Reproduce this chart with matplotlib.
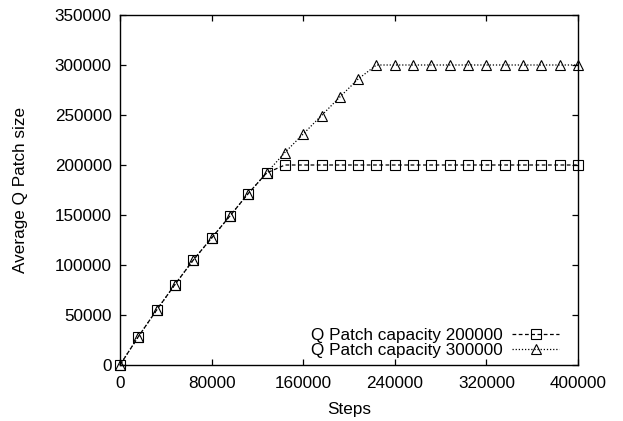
import matplotlib
matplotlib.use("Agg")
import matplotlib.pyplot as plt

plt.rcParams['font.family'] = ['Liberation Sans', 'DejaVu Sans']

# Simulation steps at which the patch size was sampled
steps = [0, 16000, 32000, 48000, 64000, 80000, 96000, 112000, 128000,
         144000, 160000, 176000, 192000, 208000, 224000, 240000, 256000,
         272000, 288000, 304000, 320000, 336000, 352000, 368000, 384000, 400000]

# Average Q patch size, capacity 200000
size_cap200k = [0, 28300, 55000, 80500, 105000, 127000, 149000, 171500, 192000,
                200000, 200000, 200000, 200000, 200000, 200000, 200000, 200000,
                200000, 200000, 200000, 200000, 200000, 200000, 200000, 200000, 200000]

# Average Q patch size, capacity 300000
size_cap300k = [0, 28300, 55000, 80500, 105000, 127000, 149000, 171500, 192000,
                212500, 231000, 249500, 268000, 286000, 300000, 300000, 300000,
                300000, 300000, 300000, 300000, 300000, 300000, 300000, 300000, 300000]

labels = ["Q Patch capacity 200000", "Q Patch capacity 300000"]
xticks = [0, 80000, 160000, 240000, 320000, 400000]
yticks = [0, 50000, 100000, 150000, 200000, 250000, 300000, 350000]

fig = plt.figure(figsize=(6.23, 4.21), dpi=100)
ax = fig.add_axes([120 / 623, 1 - 365 / 421, 458 / 623, 350 / 421])

ax.plot(steps, size_cap200k, color='black', lw=0.9, dashes=(3, 2),
        marker='s', ms=7.5, mfc='none', mec='black', mew=0.8, label=labels[0],
        clip_on=False, zorder=3)
ax.plot(steps, size_cap300k, color='black', lw=0.9, dashes=(1, 1.5),
        marker='^', ms=7.5, mfc='none', mec='black', mew=0.8, label=labels[1],
        clip_on=False, zorder=3)

ax.set_xlim(0, 400000)
ax.set_ylim(0, 350000)
ax.set_xticks(xticks)
ax.set_yticks(yticks)
ax.set_xticklabels([str(v) for v in xticks])
ax.set_yticklabels([str(v) for v in yticks])
ax.tick_params(direction='in', length=4.5, width=0.9, labelsize=12.3,
               top=True, right=True)
ax.tick_params(axis='x', pad=8)
ax.tick_params(axis='y', pad=6)
for s in ax.spines.values():
    s.set_linewidth(1.0)

ax.set_xlabel("Steps", fontsize=12.3, labelpad=8)
ax.set_ylabel("Average Q Patch size", fontsize=12.3, labelpad=19)

leg = ax.legend(loc='lower right', bbox_to_anchor=(568 / 623, 1 - 367 / 421),
                bbox_transform=fig.transFigure, frameon=False, markerfirst=False,
                fontsize=12.3, handlelength=2.8, handletextpad=0.5,
                borderpad=0, labelspacing=0.0, numpoints=1)

fig.savefig("out.png", dpi=100)
